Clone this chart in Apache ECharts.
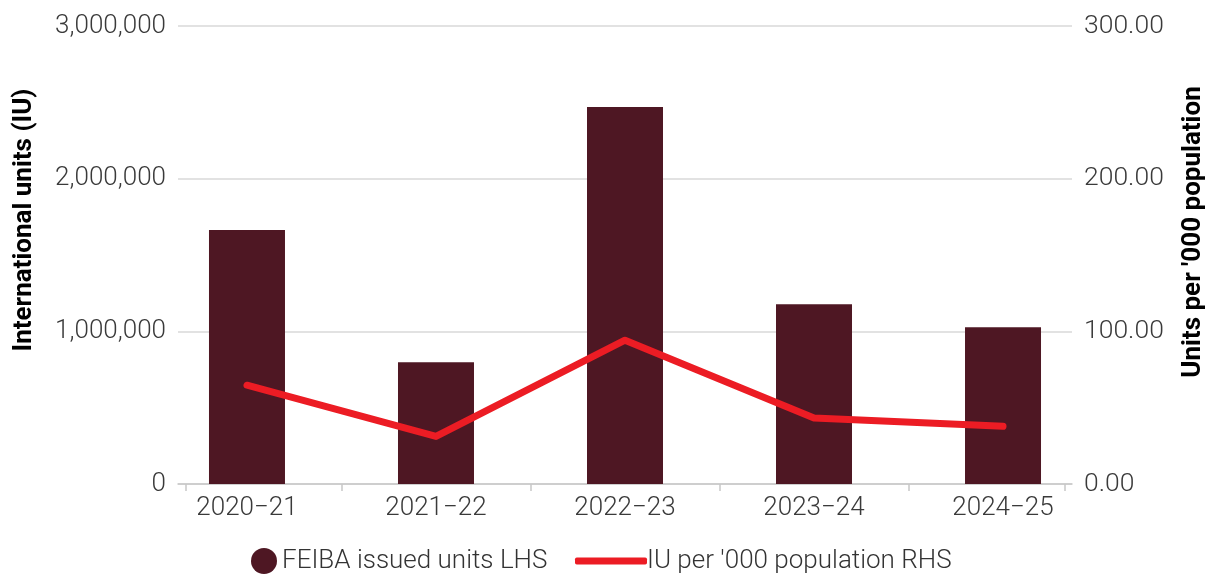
<!DOCTYPE html>
<html>
<head>
<meta charset="utf-8">
<script src="https://cdn.jsdelivr.net/npm/echarts@6/dist/echarts.min.js"></script>
<style>
html,body{margin:0;padding:0;background:#fff;}
#c{width:1206px;height:574px;}
</style>
</head>
<body>
<div id="c"></div>
<script>
const categories = ['2020\u221221', '2021\u221222', '2022\u221223', '2023\u221224', '2024\u221225'];
const issuedUnits = [1663000, 798000, 2470000, 1177000, 1026000];
const perThousand = [64.7, 31.2, 94.2, 43.2, 37.8];
const leftTicks = [0, 1000000, 2000000, 3000000];
const rightTicks = [0, 100, 200, 300];

const barName = 'FEIBA issued units LHS';
const lineName = "IU per '000 population RHS";
const FONT = 'Roboto, "Noto Sans", sans-serif';

const chart = echarts.init(document.getElementById('c'), null, {renderer: 'canvas'});
chart.setOption({
  animation: false,
  backgroundColor: '#ffffff',
  grid: {left: 178, right: 134, top: 26, bottom: 90, containLabel: false},
  xAxis: {
    type: 'value',
    min: -0.365,
    max: 4.365,
    axisLine: {show: true, lineStyle: {color: '#c8c8c8', width: 1.5}},
    axisTick: {show: true, length: 7, lineStyle: {color: '#c8c8c8', width: 1.5},
      customValues: [-0.323, 0.5, 1.5, 2.5, 3.5, 4.325]},
    axisLabel: {
      customValues: categories.map((c, i) => i),
      formatter: v => categories[Math.round(v)] || '',
      color: '#3a3a3a', fontFamily: FONT, fontSize: 26, fontWeight: 300, margin: 11
    },
    splitLine: {show: false}
  },
  yAxis: [{
    type: 'value', min: leftTicks[0], max: leftTicks[leftTicks.length - 1], interval: 1000000,
    axisLine: {show: false}, axisTick: {show: false},
    axisLabel: {formatter: v => v.toLocaleString('en-US'), color: '#3a3a3a',
      fontFamily: FONT, fontSize: 26, fontWeight: 300, margin: 12},
    splitLine: {show: true, lineStyle: {color: '#d9d9d9', width: 1.5}}
  }, {
    type: 'value', min: rightTicks[0], max: rightTicks[rightTicks.length - 1], interval: 100,
    position: 'right',
    axisLine: {show: false}, axisTick: {show: false},
    axisLabel: {formatter: v => v.toFixed(2), color: '#3a3a3a',
      fontFamily: FONT, fontSize: 26.5, fontWeight: 300, margin: 12},
    splitLine: {show: false}
  }],
  legend: [{
    data: [{name: barName, icon: 'circle'}],
    left: 246, top: 543, itemWidth: 26, itemHeight: 26, itemGap: 6,
    textStyle: {color: '#333', fontFamily: FONT, fontSize: 26, fontWeight: 300, padding: [0, 0, 0, 0]}
  }, {
    data: [{name: lineName, icon: 'roundRect'}],
    left: 570, top: 543, itemWidth: 72, itemHeight: 7,
    textStyle: {color: '#333', fontFamily: FONT, fontSize: 26, fontWeight: 300, padding: [0, 0, 0, -5]}
  }],
  graphic: [{
    type: 'text', x: 24, y: 220, rotation: Math.PI / 2,
    style: {text: 'International units (IU)', textAlign: 'center', textVerticalAlign: 'middle',
      font: 'bold 26px Roboto, "Noto Sans", sans-serif', fill: '#000'}
  }, {
    type: 'text', x: 1193, y: 232, rotation: Math.PI / 2,
    style: {text: "Units per '000 population", textAlign: 'center', textVerticalAlign: 'middle',
      font: 'bold 26px Roboto, "Noto Sans", sans-serif', fill: '#000'}
  }],
  series: [{
    name: barName, type: 'bar', xAxisIndex: 0, yAxisIndex: 0,
    barWidth: 76,
    itemStyle: {color: '#4e1723'},
    data: issuedUnits.map((v, i) => [i, v])
  }, {
    name: lineName, type: 'line', xAxisIndex: 0, yAxisIndex: 1,
    symbol: 'none', smooth: false,
    lineStyle: {color: '#ec1c24', width: 7, cap: 'round', join: 'round'},
    itemStyle: {color: '#ec1c24'},
    data: perThousand.map((v, i) => [i, v])
  }]
});
</script>
</body>
</html>
